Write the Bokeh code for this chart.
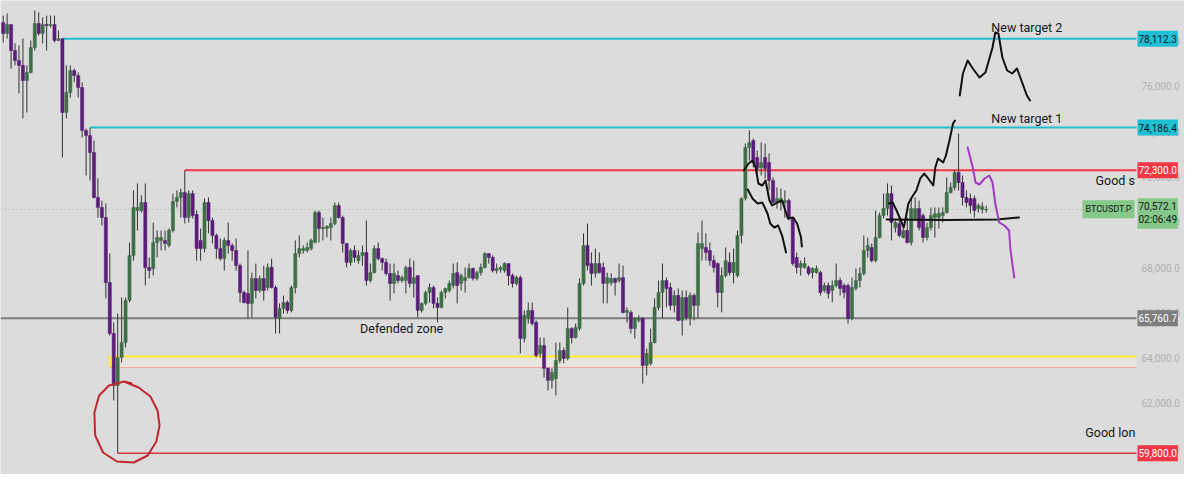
from bokeh.plotting import figure
from bokeh.models import Range1d, Label, ColumnDataSource
from bokeh.core.properties import value
from bokeh.embed import file_html
from bokeh.resources import INLINE

# ---------------- data (BTCUSDT.P candles) ----------------
opens = [78820, 78340, 78740, 77590, 77150, 76930, 76260, 76620, 77720, 78780,
         78340, 78740, 78690, 78740, 78030, 78110, 74850, 75730, 76700, 76480,
         75950, 74060, 73830, 73080, 71100, 70660, 70210, 67340, 65090, 62790,
         64030, 64690, 66550, 68540, 70520, 70520, 70880, 68010, 67960, 69110,
         69200, 69200, 68980, 69640, 70920, 71100, 71320, 70210, 71270, 70350,
         69200, 68840, 70880, 70080, 69420, 68840, 68400, 69200, 68980, 68760,
         68090, 66900, 66860, 66420, 67520, 66990, 67520, 67120, 68010, 67120,
         65760, 66200, 66460, 66110, 67120, 68620, 68760, 68760, 68840, 69110,
         70430, 69730, 69730, 69770, 69950, 70740, 70210, 69070, 68230, 68760,
         68310, 68540, 68670, 67430, 67780, 68840, 68400, 68230, 67740, 67300,
         67650, 67430, 67430, 68010, 67300, 67650, 66110, 66420, 66900, 67120,
         66420, 66240, 66900, 66990, 67210, 67780, 67300, 67430, 67560, 67960,
         67520, 67780, 68010, 68620, 68450, 67870, 67920, 67870, 68180, 67650,
         67300, 67560, 64870, 65800, 66110, 65580, 64210, 64560, 63550, 63020,
         63100, 63900, 64340, 63990, 65310, 64910, 65310, 67300, 68980, 68180,
         67740, 68180, 68010, 67300, 67340, 67520, 67430, 67560, 66020, 66020,
         65310, 65670, 65760, 63680, 63770, 64690, 66240, 66900, 67430, 67120,
         66330, 66770, 65670, 66680, 65800, 66770, 66330, 68840, 68890, 68760,
         68310, 68180, 66900, 67650, 68230, 67780, 67650, 69420, 71050, 73300,
         73610, 72860, 72420, 72860, 72640, 71850, 70880, 70880, 70880, 70960,
         70210, 68450, 68010, 68010, 68010, 67780, 67780, 67780, 66990, 67210,
         66990, 67210, 67430, 67210, 67210, 65760, 67080, 67430, 67740, 68760,
         68890, 68310, 69330, 70300, 70610, 71270, 69770, 69950, 69330, 69640,
         69110, 70170, 70610, 70300, 69330, 69770, 70210, 70210, 70300, 70430,
         71320, 71540, 72200, 71760, 71100, 71050, 71050, 70610, 70570, 70560]
highs = [79130, 79220, 78740, 77900, 77810, 78120, 76930, 78030, 79350, 79270,
         79050, 79130, 79130, 79130, 78470, 78112.3, 76930, 76930, 76790, 76620,
         76180, 74140, 74186.4, 73610, 71940, 70960, 70830, 68620, 65580, 65970,
         66680, 66680, 69110, 71410, 71720, 71190, 71720, 68450, 69990, 69640,
         69640, 69640, 69730, 71270, 71410, 71490, 72300, 71410, 71410, 70520,
         69730, 71050, 71100, 70210, 69510, 69290, 69330, 69990, 69070, 69290,
         68180, 66990, 68760, 67780, 68180, 67650, 68090, 68180, 68400, 67210,
         66420, 66770, 66550, 67210, 69200, 69420, 68980, 69110, 69290, 70520,
         70520, 70210, 69860, 70210, 70880, 70880, 70300, 69070, 68840, 68980,
         68760, 68980, 70080, 68180, 68980, 69110, 68450, 68400, 68180, 68180,
         67870, 67650, 68090, 68400, 68310, 67650, 66460, 66990, 67300, 67210,
         66680, 66990, 67120, 67430, 68180, 68230, 67740, 68010, 68180, 68010,
         67870, 68180, 68670, 68620, 68540, 68180, 68090, 68230, 68180, 67740,
         67650, 67650, 66110, 66460, 66460, 65670, 64910, 64910, 63590, 63550,
         64690, 64690, 64470, 66240, 65360, 65530, 67520, 69510, 69950, 68670,
         68840, 68670, 68230, 67780, 67740, 67560, 68180, 68090, 66240, 66110,
         65800, 65890, 65800, 64430, 65310, 66640, 67430, 68180, 67560, 67340,
         66990, 67080, 66990, 66990, 66900, 66860, 69550, 70080, 69510, 69110,
         68540, 68230, 68010, 68890, 68670, 68840, 69640, 71100, 73480, 74060,
         73700, 73170, 73530, 73480, 73040, 71980, 71540, 71490, 71410, 71050,
         70210, 68670, 68310, 68450, 68090, 68010, 68090, 67870, 67340, 67340,
         67430, 68180, 67560, 67300, 67300, 67560, 67960, 68010, 69420, 69330,
         69070, 70520, 70430, 71270, 71720, 71630, 70080, 70080, 69730, 70210,
         71100, 71100, 70960, 70390, 69990, 70660, 70660, 70660, 70660, 71980,
         71760, 72300, 73920, 72070, 71410, 71270, 71190, 70830, 70880, 70740]
lows = [77940, 78120, 76790, 76930, 75690, 74590, 74850, 76570, 77590, 78250,
        77900, 77590, 78600, 77940, 78000, 72860, 74590, 75510, 76180, 75510,
        73750, 72070, 71850, 71050, 70210, 69860, 66640, 65000, 62130, 59800,
        63810, 64470, 66460, 68310, 69640, 70430, 67210, 67520, 67650, 68450,
        68760, 68760, 68890, 69550, 70660, 70210, 69950, 69990, 70170, 68310,
        68310, 68670, 69510, 69070, 68400, 68310, 67870, 68620, 68310, 67870,
        66460, 66420, 65760, 65800, 66640, 66900, 66550, 66990, 67080, 65090,
        65090, 65970, 65970, 66020, 66860, 68450, 68620, 68670, 68760, 69070,
        69110, 69200, 69330, 69200, 69860, 70170, 68670, 68010, 68090, 68230,
        68180, 68090, 67210, 67340, 67740, 68310, 67870, 67650, 66550, 66860,
        67300, 67340, 66860, 67120, 66680, 65800, 66020, 66330, 66460, 66200,
        65580, 66200, 66640, 66900, 67080, 66420, 66990, 66900, 67520, 67430,
        67430, 67650, 67960, 68180, 67780, 67740, 67780, 67780, 67210, 67120,
        67210, 64210, 64690, 65530, 65440, 64030, 64030, 63150, 62570, 62660,
        62350, 63770, 63770, 63900, 64650, 64870, 65220, 67210, 67870, 67210,
        67560, 67740, 66420, 66420, 67210, 66770, 67340, 65970, 65580, 65090,
        64870, 65580, 62880, 63240, 63680, 64650, 66110, 65760, 66240, 66110,
        66020, 65630, 65000, 65670, 65440, 65670, 65760, 68310, 68310, 68090,
        67780, 66240, 66020, 67560, 67650, 67300, 67560, 69070, 70960, 72730,
        72420, 72160, 72070, 71940, 71410, 70830, 70610, 70520, 70210, 70080,
        68090, 67740, 67650, 67960, 67650, 67520, 67740, 66770, 66900, 66640,
        66460, 67120, 66770, 66640, 65530, 65670, 66990, 67120, 67650, 68450,
        68230, 68230, 69290, 70170, 70300, 69200, 69550, 69330, 69290, 69070,
        68980, 70080, 69640, 69110, 69200, 69640, 69330, 69730, 69990, 70390,
        71270, 71410, 71410, 70740, 70660, 70390, 70210, 70430, 70390, 70430]
closes = [78340, 78740, 77590, 77150, 76930, 76260, 76620, 77720, 78780, 78340,
          78740, 78690, 78740, 78030, 78110, 74850, 75730, 76700, 76480, 75950,
          74060, 73830, 73080, 71100, 70660, 70210, 67340, 65090, 62790, 64030,
          64690, 66550, 68540, 70660, 70660, 70880, 68010, 67870, 69110, 69330,
          69330, 69070, 69640, 70920, 71100, 71320, 70210, 71270, 70300, 68840,
          68840, 70880, 70080, 69420, 68840, 68400, 69200, 68980, 68760, 68090,
          66900, 66460, 66420, 67520, 66990, 67520, 66990, 68010, 67120, 65800,
          66200, 66460, 66110, 67120, 68620, 68840, 68840, 68890, 69200, 70430,
          69730, 69770, 69820, 69950, 70740, 70210, 69070, 68230, 68760, 68450,
          68540, 68670, 67430, 67780, 68840, 68400, 68230, 67740, 67300, 67740,
          67430, 67560, 68010, 67300, 67560, 66110, 66420, 66900, 67120, 66420,
          66240, 66900, 67080, 67300, 67740, 67210, 67650, 67560, 67960, 67520,
          67780, 68010, 68620, 68450, 67870, 67960, 68010, 68180, 67650, 67300,
          67560, 64870, 65890, 66110, 65530, 64120, 64560, 63550, 63020, 63370,
          63900, 64340, 63990, 65310, 64910, 65360, 67300, 68980, 68090, 67740,
          68180, 67780, 67300, 67560, 67520, 67340, 67560, 66020, 66110, 65310,
          65760, 65760, 63680, 64210, 64690, 66240, 66900, 67430, 67080, 66330,
          66770, 65670, 66680, 65800, 66770, 66330, 69070, 69070, 68670, 68310,
          68010, 66900, 67650, 68310, 67780, 68230, 69420, 71050, 73300, 73530,
          72640, 72380, 72640, 72380, 71850, 70880, 71050, 71050, 70960, 70170,
          68180, 68010, 68180, 68180, 67740, 67960, 67960, 66900, 67210, 66860,
          67210, 67430, 67080, 66900, 65760, 67120, 67430, 67740, 68760, 68980,
          68310, 69330, 70300, 70610, 71270, 69990, 69990, 69420, 69640, 69110,
          70610, 70610, 69770, 69330, 69770, 70300, 70390, 70390, 70430, 71320,
          71540, 72200, 71760, 71100, 70880, 70740, 70520, 70740, 70700, 70572.1]

price_ticks = [60000, 62000, 64000, 66000, 68000, 70000, 72000, 74000, 76000, 78000]

# horizontal levels drawn on the chart
level_prices = [78112.3, 74186.4, 72300.0, 59800.0]
level_start_bar = [15, 22, 46, 29]
level_colors = ["#1fbfd4", "#1fbfd4", "#f23645", "#cf3a46"]
level_widths = [2, 2, 2, 1.5]
level_label_bg = ["#1fbfd4", "#1fbfd4", "#f23645", "#f23645"]
level_label_fg = ["#131722", "#131722", "#ffffff", "#ffffff"]
defended_level = 65760.7
zone_top, zone_bottom, zone_start_bar = 64075.0, 63590.0, 27
last_price = 70572.1
countdown = "02:06:49"
symbol = "BTCUSDT.P"

# hand drawn paths (bar index, price)
wave_a_x = [187.6, 188.8, 189.8, 190.6, 191.3, 192.3, 193.1, 194.1, 194.8, 196.1, 197.3, 198.1, 198.8, 200.1, 201.1, 202.1, 202.3]
wave_a_y = [72289, 72598, 72730, 72421, 71715, 71626, 71847, 70964, 70743, 70876, 70964, 70522, 70169, 70213, 69948, 69330, 68932]
wave_b_x = [188.6, 189.8, 191.1, 192.3, 193.6, 194.3, 195.3, 196.3, 197.3, 198.3]
wave_b_y = [71450, 71053, 70832, 70876, 70390, 69948, 69772, 69860, 69418, 68668]
wave_c_x = [224.3, 225.3, 226.3, 227.6, 228.1, 228.6, 229.3, 230.3, 231.3, 232.3, 233.3, 234.3, 235.6, 236.1, 236.8, 238.1, 238.8, 239.8, 240.6, 241.1]
wave_c_y = [70832, 70876, 70522, 69992, 69772, 70169, 70832, 71141, 71406, 71936, 72156, 71936, 71626, 72421, 72819, 72642, 72951, 73702, 74364, 74497]
wave_d_x = [242.3, 243.1, 244.3, 245.6, 247.3, 248.8, 250.6, 251.3, 252.1, 253.1, 254.3, 255.6, 256.8, 258.1, 259.3, 260.1]
wave_d_y = [75601, 76572, 77146, 76793, 76396, 76616, 77721, 78383, 78339, 77279, 76705, 76572, 76793, 76175, 75601, 75380]
base_x = [223.8, 239.3, 251.8, 257.3]
base_y = [70125, 70100, 70125, 70213]
purple_x = [244.3, 245.6, 246.3, 247.3, 248.6, 249.8, 250.6, 251.3, 252.3, 253.6, 254.8, 255.1, 255.6, 256.1]
purple_y = [73304, 72421, 71759, 71671, 71936, 72068, 71759, 70832, 69992, 69860, 69639, 68888, 68182, 67564]
circle_x = [30.6, 34.3, 37.3, 39.1, 39.6, 38.8, 36.6, 33.1, 28.8, 25.3, 23.3, 23.1, 24.3, 26.8, 30.6, 32.5]
circle_y = [62971, 62706, 62309, 61690, 61028, 60322, 59703, 59394, 59438, 59835, 60586, 61602, 62353, 62795, 62971, 62900]

notes_text = ["New target 2", "New target 1", "Good s", "Defended zone", "Good lon"]
notes_x = [250.3, 250.3, 276.7, 90.4, 274.1]
notes_y = [78604, 74585, 71847, 65312, 60720]

# ---------------- figure ----------------
BG = "#dcdcdc"
FRAME_W, FRAME_H = 1184, 474
CHART_W = 1136                      # candle area; the rest is the price scale
X_START, X_CHART_END = -0.68, 287.07
X_END = X_START + (X_CHART_END - X_START) * FRAME_W / CHART_W
Y_END = 79796.0
Y_START = Y_END - FRAME_H * 44.16
FONT = "Roboto"

p = figure(width=FRAME_W, height=FRAME_H,
           x_range=Range1d(X_START, X_END), y_range=Range1d(Y_START, Y_END),
           x_axis_location=None, y_axis_location=None,
           toolbar_location=None, output_backend="svg",
           background_fill_color=BG, border_fill_color=BG,
           min_border=0, outline_line_color=None)
p.grid.visible = False

# yellow zone
p.quad(left=[zone_start_bar], right=[X_CHART_END], top=[zone_top], bottom=[zone_bottom],
       fill_color="#e7e6df", line_color=None)
p.segment(x0=[zone_start_bar], y0=[zone_bottom], x1=[X_CHART_END], y1=[zone_bottom],
          line_color="#f5a3a3", line_width=1)
p.segment(x0=[zone_start_bar, zone_start_bar], y0=[zone_top, zone_top],
          x1=[X_CHART_END, zone_start_bar], y1=[zone_top, zone_bottom],
          line_color="#ffe82e", line_width=2)

# levels
p.segment(x0=[X_START], y0=[defended_level], x1=[X_CHART_END], y1=[defended_level],
          line_color="#7d7d7d", line_width=2)
p.segment(x0=level_start_bar, y0=level_prices, x1=[X_CHART_END] * len(level_prices), y1=level_prices,
          line_color=level_colors, line_width=level_widths)
p.segment(x0=[X_START], y0=[last_price], x1=[X_CHART_END], y1=[last_price],
          line_color="#86c98a", line_width=1, line_dash="1 3")

# candles
n = len(opens)
bars = list(range(n))
src = ColumnDataSource(dict(
    x=bars, high=highs, low=lows,
    top=[max(o, c) for o, c in zip(opens, closes)],
    bottom=[min(o, c) for o, c in zip(opens, closes)],
    color=["#3f6e47" if c >= o else "#5b1d79" for o, c in zip(opens, closes)],
))
p.segment(x0="x", y0="low", x1="x", y1="high", source=src, line_color="#333333", line_width=1)
p.vbar(x="x", width=0.8, top="top", bottom="bottom", source=src,
       fill_color="color", line_color="color", line_width=0.5)

# hand drawn annotations
for xs, ys in [(wave_a_x, wave_a_y), (wave_b_x, wave_b_y), (wave_c_x, wave_c_y),
               (wave_d_x, wave_d_y), (base_x, base_y)]:
    p.line(xs, ys, line_color="#111111", line_width=2, line_join="round", line_cap="round")
p.line(purple_x, purple_y, line_color="#a23bc0", line_width=2, line_join="round", line_cap="round")
p.line(circle_x, circle_y, line_color="#c0282f", line_width=2, line_join="round", line_cap="round")

p.text(x=notes_x, y=notes_y, text=notes_text, text_font=value(FONT), text_font_size="12.5px",
       text_color="#131722", text_align="left", text_baseline="middle")

# price scale: tick labels, placed with the y scale
scale_x = X_START + (X_END - X_START) * (CHART_W + 5) / FRAME_W
p.text(x=[scale_x] * len(price_ticks), y=price_ticks, text=[f"{t:,.1f}" for t in price_ticks],
       text_font=value(FONT), text_font_size="10px", text_color="#b0b0b0",
       text_align="left", text_baseline="middle")

def scale_label(price, text, bg, fg, yoff=0):
    p.add_layout(Label(x=CHART_W + 1, y=price, x_units="screen", y_units="data", text=text,
                       text_font=FONT, text_font_size="10px", text_color=fg,
                       text_align="left", text_baseline="middle", y_offset=yoff,
                       background_fill_color=bg, padding=(1, 4)))

for lv, bg, fg in zip(level_prices, level_label_bg, level_label_fg):
    scale_label(lv, f"{lv:,.1f}", bg, fg)
scale_label(defended_level, f"{defended_level:,.1f}", "#7d7d7d", "#ffffff")
scale_label(last_price, countdown, "#86c98a", "#131722", yoff=-10)
scale_label(last_price, f"{last_price:,.1f}", "#86c98a", "#131722", yoff=3)

p.add_layout(Label(x=CHART_W - 54, y=last_price, x_units="screen", y_units="data", text=symbol,
                   text_font=FONT, text_font_size="9px", text_color="#131722",
                   text_align="left", text_baseline="middle",
                   background_fill_color="#86c98a", padding=(3, 4)))

open("out.html", "w").write(file_html(p, INLINE))
